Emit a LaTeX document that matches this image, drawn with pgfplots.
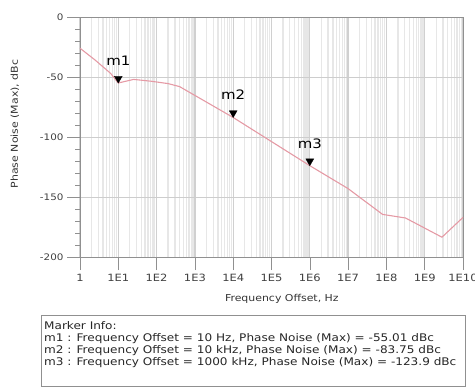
\documentclass[border=0pt]{standalone}
\usepackage{fontspec}
\setmainfont{DejaVu Sans}[FakeStretch=1.15]
\usepackage{pgfplots}
\pgfplotsset{compat=1.18}
\usetikzlibrary{calc}
\definecolor{curvec}{HTML}{E59AA5}
\definecolor{gridc}{HTML}{E7E7E7}
\definecolor{hgridc}{HTML}{CDCDCD}
\definecolor{framec}{HTML}{909090}
\begin{document}
\begin{tikzpicture}
\begin{axis}[name=ax, scale only axis, width=383bp, height=240bp,
  xmode=log, log basis x=10, xmin=1, xmax=1e10, ymin=-200, ymax=0,
  xtick={1,1e1,1e2,1e3,1e4,1e5,1e6,1e7,1e8,1e9,1e10},
  xticklabels={1,1E1,1E2,1E3,1E4,1E5,1E6,1E7,1E8,1E9,1E10},
  minor xtick={2e0,3e0,4e0,5e0,6e0,7e0,8e0,9e0,
    2e1,3e1,4e1,5e1,6e1,7e1,8e1,9e1,
    2e2,3e2,4e2,5e2,6e2,7e2,8e2,9e2,
    2e3,3e3,4e3,5e3,6e3,7e3,8e3,9e3,
    2e4,3e4,4e4,5e4,6e4,7e4,8e4,9e4,
    2e5,3e5,4e5,5e5,6e5,7e5,8e5,9e5,
    2e6,3e6,4e6,5e6,6e6,7e6,8e6,9e6,
    2e7,3e7,4e7,5e7,6e7,7e7,8e7,9e7,
    2e8,3e8,4e8,5e8,6e8,7e8,8e8,9e8,
    2e9,3e9,4e9,5e9,6e9,7e9,8e9,9e9},
  ytick={-200,-150,-100,-50,0},
  minor ytick={-190,-180,-170,-160,-140,-130,-120,-110,-90,-80,-70,-60,-40,-30,-20,-10},
  xtick pos=bottom, ytick pos=left,
  xminorgrids=true, xmajorgrids=true, ymajorgrids=true,
  minor x grid style={gridc, line width=1.3bp},
  major x grid style={gridc!90!black, line width=1.3bp},
  major y grid style={hgridc, line width=0.8bp},
  tick align=outside,
  major tick length=13bp, minor tick length=5bp,
  minor x tick style={draw=none},
  every tick/.style={framec, line width=0.6bp},
  axis line style={framec, line width=0.8bp},
  /pgf/number format/assume math mode=true,
  xticklabel style={font=\fontsize{10bp}{12bp}\selectfont, text=black!75, yshift=-1bp},
  yticklabel style={font=\fontsize{9bp}{11bp}\selectfont, text=black!75},
  xlabel={Frequency Offset, Hz},
  ylabel={Phase Noise (Max), dBc},
  xlabel style={at={(axis description cs:0.527,0)}, anchor=north, inner sep=0pt, yshift=-37bp, font=\fontsize{9.5bp}{11bp}\selectfont, text=black!80},
  ylabel style={at={(axis description cs:-0.170,0.554)}, anchor=center, inner sep=0pt, font=\fontsize{9.5bp}{11bp}\selectfont, text=black!80},
  clip=false,
]
\addplot[curvec, line width=1.1bp] coordinates {
  (1,-26) (2.51,-36) (6.31,-47) (10,-55.01) (25.1,-52) (70.8,-53.5)
  (200,-55.5) (398,-58) (1e4,-83.75) (1e6,-123.9) (1e7,-143)
  (7.94e7,-164.5) (3.16e8,-167.5) (2.82e9,-183.5) (1e10,-167)
};
\addplot[only marks, mark=triangle*, mark size=4.5bp,
  mark options={black, yshift=4.5bp, rotate=180},
  point meta=explicit symbolic,
  nodes near coords, nodes near coords style={anchor=base, yshift=13bp, font=\fontsize{13bp}{15bp}\selectfont, text=black}]
  table[x=x, y=y, meta=lab] {
x y lab
10 -55.01 m1
1e4 -83.75 m2
1e6 -123.9 m3
};
\end{axis}
\draw[framec, line width=0.8bp] ($(ax.south west)+(-39bp,-58bp)$) rectangle ($(ax.south west)+(385bp,-129bp)$);
\node[anchor=north west, inner sep=0pt, align=left, font=\fontsize{10.5bp}{12bp}\selectfont, text=black!85]
  at ($(ax.south west)+(-36bp,-64bp)$) {Marker Info:\\
m1 : Frequency Offset = 10 Hz, Phase Noise (Max) = -55.01 dBc\\
m2 : Frequency Offset = 10 kHz, Phase Noise (Max) = -83.75 dBc\\
m3 : Frequency Offset = 1000 kHz, Phase Noise (Max) = -123.9 dBc};
\pgfresetboundingbox
\path[use as bounding box] ($(ax.south west)+(-80bp,-130bp)$) rectangle ($(ax.north east)+(12bp,17bp)$);
\end{tikzpicture}
\end{document}
